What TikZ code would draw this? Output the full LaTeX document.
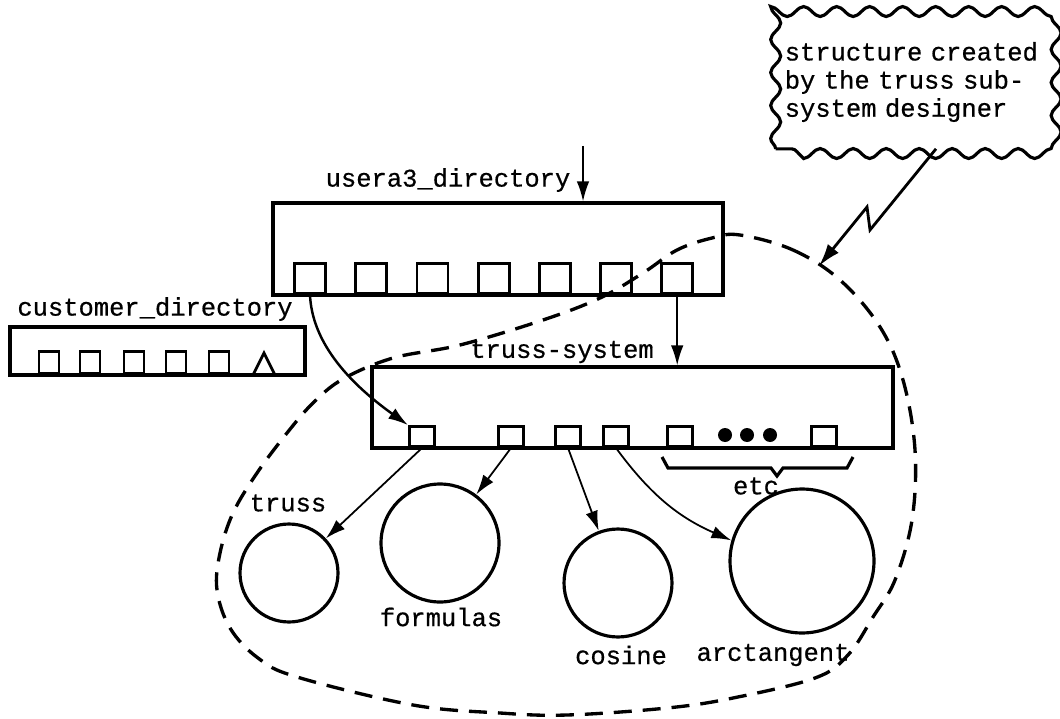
\documentclass[tikz,border=0pt]{standalone}
\usepackage{fontspec}
\setmonofont{Liberation Mono}[FakeBold=0.6]
\usetikzlibrary{arrows.meta,positioning,decorations.pathmorphing}

\begin{document}
\begin{tikzpicture}[x=0.02cm, y=-0.02cm, >={Latex[length=4mm,width=2.5mm]},
  every node/.style={font=\ttfamily\fontsize{14.5}{16}\selectfont},
  dirbox/.style={draw, line width=1.8pt, inner sep=0pt},
  slot/.style={draw, line width=1.6pt, inner sep=0pt, anchor=south},
  ring/.style={draw, circle, line width=1.8pt, inner sep=0pt},
  note/.style={align=left, text width=5.25cm, inner xsep=0.15cm,
    minimum width=5.6cm, minimum height=2.66cm},
  wavy/.style={line width=1.8pt, decorate,
    decoration={snake, segment length=0.66cm, amplitude=0.1cm}},
  link/.style={->, line width=1pt},
  region/.style={line width=1.9pt, dash pattern=on 0.36cm off 0.22cm}]
\useasboundingbox (0,0) rectangle (1060,719);
% directories
\node[dirbox, minimum width=9cm, minimum height=1.84cm] (ubox) at (498,249) {};
\node[dirbox, minimum width=5.9cm, minimum height=0.96cm] (cbox) at (157.5,351) {};
\node[dirbox, minimum width=10.42cm, minimum height=1.62cm] (tbox) at (632.5,407.5) {};
\node (ulabel) at (448,180) {usera3\_directory};
\node (clabel) at (155,309) {customer\_directory};
\node (tlabel) at (562,352) {truss-system};
\foreach \i in {1,...,7}{\node[slot, minimum width=0.62cm, minimum height=0.6cm] (u\i) at ({310+61.2*(\i-1)},295) {};}
\foreach \i/\x in {1/49,2/90,3/134,4/176,5/219}{\node[slot, minimum width=0.4cm, minimum height=0.44cm] (c\i) at (\x,375) {};}
\draw[line width=1.6pt] (253,375) -- (264,353) -- (275,375);
\foreach \i/\x in {1/422,2/511,3/568,4/616,5/680,6/824}{\node[slot, minimum width=0.5cm, minimum height=0.4cm] (t\i) at (\x,448) {};}
\foreach \x in {725,747,770}{\fill (\x,435) circle (0.14cm);}
% segments
\node[ring, minimum size=1.96cm] (trussc) at (289,573) {};
\node[ring, minimum size=2.36cm] (formc) at (440,543) {};
\node[ring, minimum size=2.16cm] (cosc) at (618,583) {};
\node[ring, minimum size=2.88cm] (arcc) at (802,561) {};
\node (trusslbl) at (288,503) {truss};
\node (formlbl) at (441,617) {formulas};
\node (coslbl) at (621,655) {cosine};
\node (arclbl) at (773,655) {arctangent};
\draw[line width=1.8pt] (662,457) -- (668,468) -- (771,468) -- (777,476) -- (783,468) -- (847,468) -- (853,457);
\node (etc) at (756,486) {etc};
% links
\coordinate (feed) at (583,146);
\draw[link] (feed) -- (feed |- ubox.north);
\draw[link] (u7.south) -- (u7.south |- tbox.north);
\draw[link, line width=1.4pt] (u1.south) .. controls (312,340) and (345,380) .. (t1.north west);
\draw[link] (t1.south) -- (trussc);
\draw[link] (t2.south) -- (formc);
\draw[link] (t3.south) -- (cosc);
\draw[link] (t4.south) to[bend right=15] (arcc);
% subsystem boundary
\draw[region] plot[smooth cycle, tension=0.6] coordinates {(740,235) (793,250) (840,280) (880,327) (903,380) (915,450) (912,520) (895,580) (873,617) (848,655) (815,678) (733,698) (667,708) (567,715) (500,713) (413,705) (297,677) (258,658) (230,628) (217,590) (220,553) (233,513) (257,473) (287,433) (313,403) (343,379) (393,358) (460,345) (543,320) (600,298) (643,273) (677,250) (712,238)};
% designer note
\node[note] (note) at (916,82) {structure created\\by the truss sub-\\system designer};
\draw[wavy] (note.south west) rectangle (note.north east);
\coordinate (hit) at (819,266);
\draw[->, line width=1.6pt, >={Latex[length=4.5mm,width=2.8mm]}] ([xshift=0.4cm]note.south) -- (870,230) -- (867,207) -- (hit);
\end{tikzpicture}
\end{document}
